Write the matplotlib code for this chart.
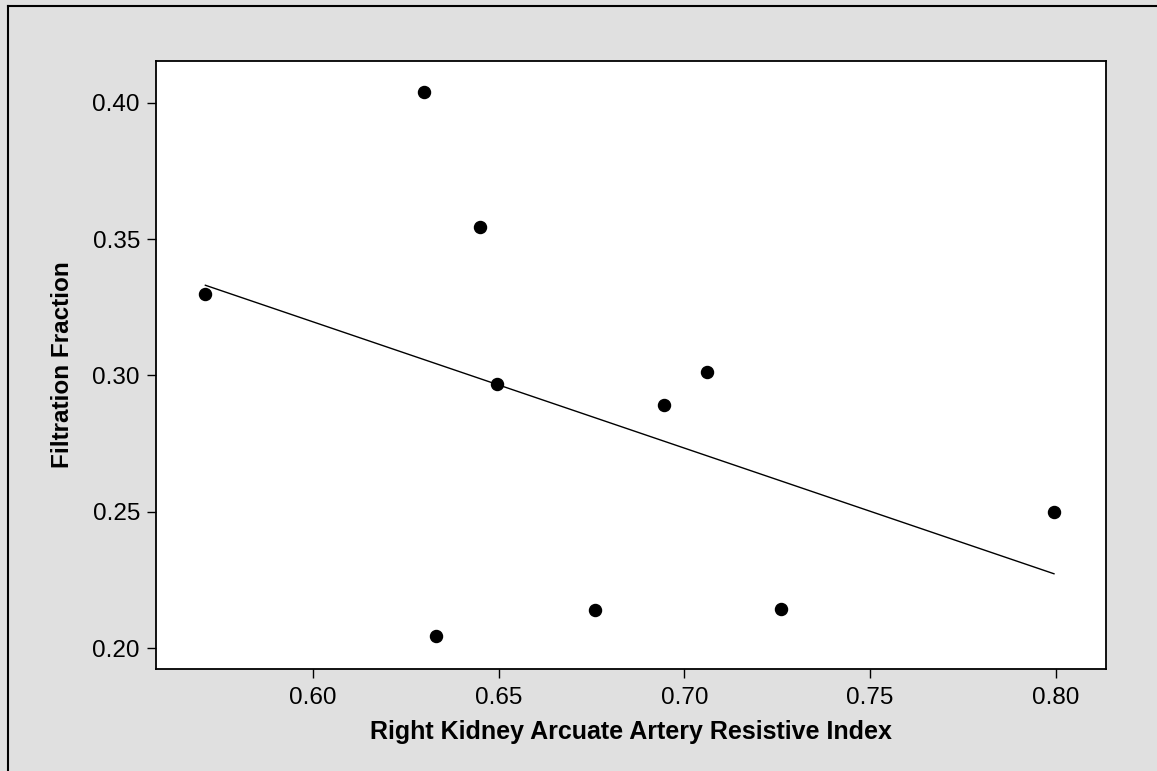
import numpy as np
import matplotlib
matplotlib.use("Agg")
import matplotlib.pyplot as plt
from matplotlib.lines import Line2D

plt.rcParams['font.family'] = ['Liberation Sans', 'DejaVu Sans']

# right kidney arcuate artery resistive index vs filtration fraction
resistive_index = [0.571, 0.630, 0.633, 0.645, 0.6495, 0.676, 0.6945, 0.706, 0.726, 0.7995]
filtration_fraction = [0.330, 0.404, 0.2044, 0.3545, 0.297, 0.2138, 0.289, 0.3013, 0.2143, 0.250]
x_ticks = [0.60, 0.65, 0.70, 0.75, 0.80]
y_ticks = [0.20, 0.25, 0.30, 0.35, 0.40]

fig = plt.figure(figsize=(11.57, 7.71), dpi=100, facecolor='#e0e0e0')
ax = fig.add_axes([0.1348, 0.1323, 0.8211, 0.7886])
ax.set_facecolor('white')

x = np.array(resistive_index)
y = np.array(filtration_fraction)
ax.scatter(x, y, s=75, color='black', zorder=3)

# least squares fit line
slope, intercept = np.polyfit(x, y, 1)
xs = np.array([x.min(), x.max()])
ax.plot(xs, slope * xs + intercept, color='black', lw=1.0)

ax.set_xlim(0.5577, 0.8135)
ax.set_ylim(0.1923, 0.4154)
ax.set_xticks(x_ticks)
ax.set_yticks(y_ticks)
ax.set_xticklabels(['%.2f' % t for t in x_ticks])
ax.set_yticklabels(['%.2f' % t for t in y_ticks])
ax.tick_params(length=6.5, width=1, labelsize=17.5, pad=5, color='black')
ax.tick_params(axis='x', pad=6.5)

for sp in ax.spines.values():
    sp.set_linewidth(1.3)

ax.set_xlabel('Right Kidney Arcuate Artery Resistive Index', fontsize=18, fontweight='bold', labelpad=8)
ax.set_ylabel('Filtration Fraction', fontsize=17.5, fontweight='bold', labelpad=13)

# outer border (left and top edges only visible)
fig.add_artist(Line2D([8/1157, 8/1157], [0, 1 - 6/771], transform=fig.transFigure, color='black', lw=1.5))
fig.add_artist(Line2D([8/1157, 1], [1 - 6/771, 1 - 6/771], transform=fig.transFigure, color='black', lw=1.5))

fig.savefig('out.png', dpi=100, facecolor=fig.get_facecolor())
